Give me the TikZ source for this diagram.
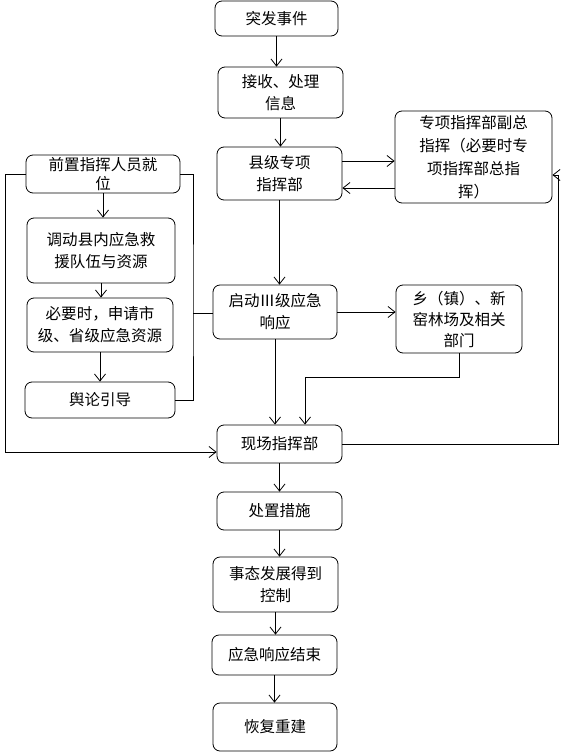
\documentclass[tikz,border=0pt]{standalone}
\usepackage{fontspec}
\newfontfamily\cjk{Noto Sans CJK SC}
\usetikzlibrary{arrows.meta,positioning}

\begin{document}
\begin{tikzpicture}[x=1bp,y=-1bp,line width=0.8bp,
  box/.style={draw,rounded corners=7bp,align=center,inner sep=1bp,
    font=\cjk\fontsize{15.5bp}{22bp}\selectfont},
  arr/.style={-{Straight Barb[length=7bp,width=11bp]}}]
  \useasboundingbox (0,0) rectangle (562,753);

  \node[box,minimum width=123bp,minimum height=35bp] (event) at (276.5,18.5) {突发事件};
  \node[box,minimum width=125bp,minimum height=51bp] (info) at (280.5,92.5) {接收、处理\\信息};
  \node[box,minimum width=125bp,minimum height=53bp] (county) at (279.5,173.5) {县级专项\\指挥部};
  \node[box,minimum width=157bp,minimum height=92bp,
    font=\cjk\fontsize{15.5bp}{23bp}\selectfont] (deputy) at (473.5,157) {专项指挥部副总\\指挥（必要时专\\项指挥部总指\\挥）};
  \node[box,minimum width=124bp,minimum height=54bp] (launch) at (275,312) {启动Ⅲ级应急\\响应};
  \node[box,minimum width=126bp,minimum height=68bp,
    font=\cjk\fontsize{15.5bp}{21bp}\selectfont] (town) at (459,319) {乡（镇）、新\\窑林场及相关\\部门};
  \node[box,minimum width=125bp,minimum height=38bp] (site) at (279.5,444) {现场指挥部};
  \node[box,minimum width=125bp,minimum height=38bp] (measure) at (279.5,511) {处置措施};
  \node[box,minimum width=125bp,minimum height=55bp] (control) at (275.5,584.5) {事态发展得到\\控制};
  \node[box,minimum width=125bp,minimum height=40bp] (finish) at (274.5,655) {应急响应结束};
  \node[box,minimum width=124bp,minimum height=48bp] (rebuild) at (275,727) {恢复重建};

  \node[box,minimum width=154bp,minimum height=38bp,
    font=\cjk\fontsize{15.5bp}{19bp}\selectfont] (front) at (103,174) {前置指挥人员就\\位};
  \node[box,minimum width=148bp,minimum height=65bp] (dispatch) at (101,250.5) {调动县内应急救\\援队伍与资源};
  \node[box,minimum width=146bp,minimum height=54bp] (apply) at (100,325) {必要时，申请市\\级、省级应急资源};
  \node[box,minimum width=150bp,minimum height=36bp] (opinion) at (100,400) {舆论引导};

  \coordinate (tbend) at (305,377);
  \coordinate (rtop) at (558,175);
  \coordinate (lbot) at (5,452);
  \coordinate (brace) at (193,313);

  \draw[arr] (event.south) -- (event.south |- info.north);
  \draw[arr] (info.south) -- (info.south |- county.north);
  \draw[arr] (county.south) -- (county.south |- launch.north);
  \draw[arr] ([yshift=12.5bp]county.east) -- ([yshift=12.5bp]county.east -| deputy.west);
  \draw[arr] ([yshift=-31bp]deputy.west) -- ([yshift=-31bp]deputy.west -| county.east);
  \draw[arr] (launch.east) -- (launch.east -| town.west);
  \draw[arr] (launch.south) -- (launch.south |- site.north);
  \draw[arr] (town.south) |- (tbend) -- (tbend |- site.north);
  \draw[arr] (site.east) -| (rtop) -- (rtop -| deputy.east);
  \draw[arr] (front.west) -| (lbot) -- (lbot -| site.west);
  \draw (front.east) -| (brace) |- (opinion.east);
  \draw (brace) -- (brace -| launch.west);

  \draw[arr] (front.south) -- (front.south |- dispatch.north);
  \draw[arr] (dispatch.south) -- (dispatch.south |- apply.north);
  \draw[arr] (apply.south) -- (apply.south |- opinion.north);

  \draw[arr] (site.south) -- (site.south |- measure.north);
  \draw[arr] (measure.south) -- (measure.south |- control.north);
  \draw[arr] (control.south) -- (control.south |- finish.north);
  \draw[arr] (finish.south) -- (finish.south |- rebuild.north);
\end{tikzpicture}
\end{document}
